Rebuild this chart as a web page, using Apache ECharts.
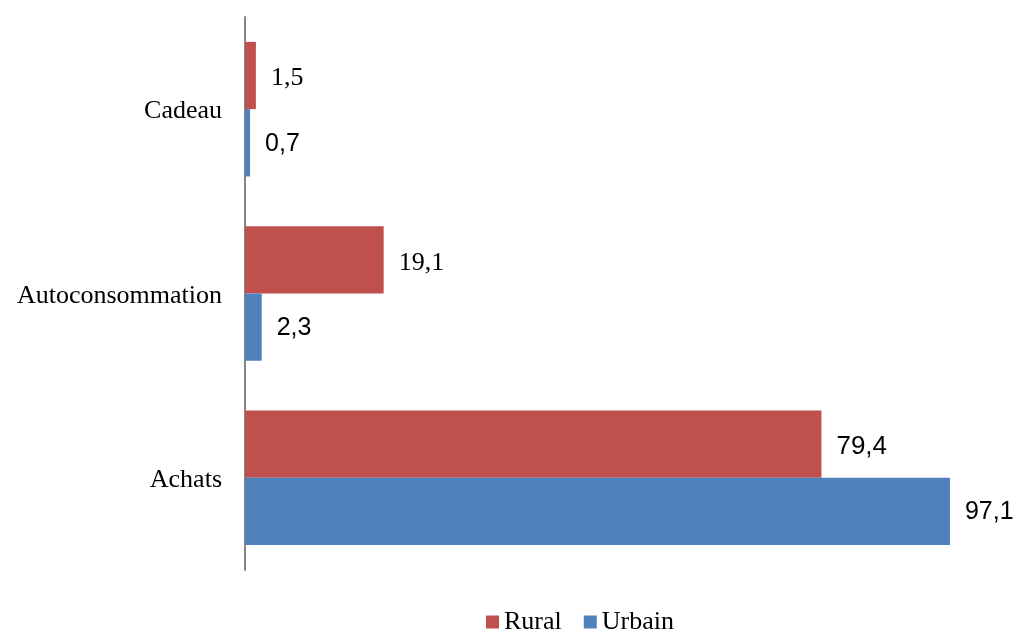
<!DOCTYPE html>
<html><head><meta charset="utf-8">
<script src="https://cdn.jsdelivr.net/npm/echarts@6/dist/echarts.min.js"></script>
<style>html,body{margin:0;padding:0;background:#fff}#c{width:1014px;height:631px}</style>
</head><body><div id="c"></div>
<script>
const categories = ['Achats', 'Autoconsommation', 'Cadeau'];
const rural = [79.4, 19.1, 1.5];
const urbain = [97.1, 2.3, 0.7];
const seriesNames = ['Rural', 'Urbain'];

const fmt = p => String(p.value).replace('.', ',');
const serif = '"Liberation Serif", "Times New Roman", serif';
const sans = '"Liberation Sans", Arial, sans-serif';

const ruralFonts = [sans, serif, serif];

const chart = echarts.init(document.getElementById('c'));
chart.setOption({
  animation: false,
  legend: {
    data: seriesNames,
    top: 604,
    left: 481,
    itemWidth: 13, itemHeight: 13, itemGap: 22,
    icon: 'rect',
    textStyle: { fontFamily: serif, fontSize: 26, color: '#000' }
  },
  grid: { left: 245, right: 43, top: 17, height: 553, containLabel: false },
  xAxis: {
    type: 'value', min: 0, max: 100,
    show: true,
    axisLine: { show: false }, axisTick: { show: false },
    axisLabel: { show: false }, splitLine: { show: false }
  },
  yAxis: {
    type: 'category', data: categories,
    axisLine: { show: true, lineStyle: { color: '#868686', width: 2 } },
    axisTick: { show: false },
    axisLabel: {
      margin: 23,
      formatter: v => '{a|' + v + '}',
      rich: { a: { fontFamily: serif, fontSize: 26, color: '#000', padding: [5, 0, 0, 0] } }
    }
  },
  series: [
    {
      name: 'Rural', type: 'bar',
      data: rural.map((v, i) => ({ value: v, label: { fontFamily: ruralFonts[i] } })),
      barGap: '0%', barCategoryGap: '27%',
      itemStyle: { color: '#C0504D' },
      label: { show: true, position: 'right', distance: 15, offset: [0, 3], formatter: fmt,
               fontSize: 26, color: '#000' }
    },
    {
      name: 'Urbain', type: 'bar',
      data: urbain,
      barGap: '0%', barCategoryGap: '27%',
      itemStyle: { color: '#4F81BD' },
      label: { show: true, position: 'right', distance: 15, offset: [0, 1], formatter: fmt,
               fontFamily: sans, fontSize: 25, color: '#000' }
    }
  ]
});
</script></body></html>
